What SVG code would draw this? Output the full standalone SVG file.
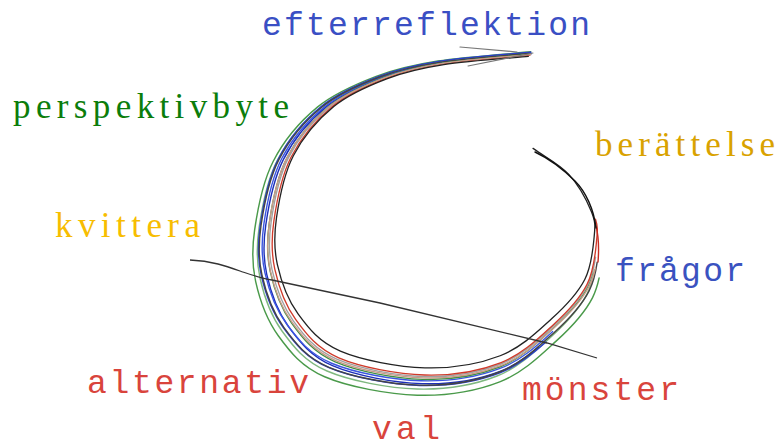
<svg xmlns="http://www.w3.org/2000/svg" xmlns:xlink="http://www.w3.org/1999/xlink" width="775" height="448" viewBox="0 0 775 448">
<style>
.mono{font-family:"Liberation Mono","Courier New",monospace;font-size:33px}
.serif{font-family:"Liberation Serif","Times New Roman",serif;font-size:35px}
.s{fill:none;stroke-width:1.4;stroke-linecap:round;vector-effect:non-scaling-stroke}
</style>
<defs>
<path id="spiral" pathLength="1" d="M530,53 C515,54.5 465,58 440,62 C415,66 399.5,69.5 380,77 C360.5,84.5 339.7,93.2 323,107 C306.3,120.8 290.2,140 280,160 C269.8,180 264.8,207.5 262,227 C259.2,246.5 259.2,259.8 263,277 C266.8,294.2 273.8,314.5 285,330 C296.2,345.5 307.5,360.3 330,370 C352.5,379.7 391.7,387.2 420,388 C448.3,388.8 477.5,383.8 500,375 C522.5,366.2 540,348.7 555,335 C570,321.3 582.5,307.7 590,293 C597.5,278.3 598.8,259.2 600,247 C601.2,234.8 601.5,231.2 597,220 C592.5,208.8 583.3,191.3 573,180 C562.7,168.7 547.7,161.3 535,152"/>
</defs>
<rect width="775" height="448" fill="#ffffff"/>
<g id="strands">
<use xlink:href="#spiral" class="s" stroke="#4a9a4a" stroke-dasharray="0.85 1" transform="translate(440 100) scale(1.03 1.025) translate(-440 -100) translate(-2 0)"/>
<use xlink:href="#spiral" class="s" stroke="#7fb87f" stroke-dasharray="0.855 1" transform="translate(440 100) scale(1.0 1.0) translate(-440 -100) translate(-3 1)"/>
<use xlink:href="#spiral" class="s" stroke="#2a3fd0" stroke-width="1.6" stroke-dasharray="0.76 1" transform="translate(440 100) scale(1.01 0.995) translate(-440 -100) translate(0 -1)"/>
<use xlink:href="#spiral" class="s" stroke="#1c2fb8" stroke-width="1.6" stroke-dasharray="0.75 1" transform="translate(440 100) scale(0.99 0.985) translate(-440 -100) translate(2 0)"/>
<use xlink:href="#spiral" class="s" stroke="#3b55e0" stroke-width="1.6" stroke-dasharray="0.77 1" transform="translate(440 100) scale(0.995 0.975) translate(-440 -100) translate(1 0)"/>
<use xlink:href="#spiral" class="s" stroke="#444" stroke-dasharray="0.86 1" transform="translate(440 100) scale(1.0 0.99) translate(-440 -100) translate(-1 0)"/>
<use xlink:href="#spiral" class="s" stroke="#3f8f44" stroke-dasharray="0.845 1" transform="translate(440 100) scale(0.97 0.97) translate(-440 -100) translate(2 0)"/>
<use xlink:href="#spiral" class="s" stroke="#a0a0a0" stroke-dasharray="0.86 1" transform="translate(440 100) scale(0.965 0.96) translate(-440 -100) translate(3 0)"/>
<use xlink:href="#spiral" class="s" stroke="#d03a2a" stroke-width="1.6" stroke-dasharray="0.9 1" transform="translate(440 100) scale(0.955 0.955) translate(-440 -100) translate(4 0)"/>
<use xlink:href="#spiral" class="s" stroke="#c89a88" stroke-dasharray="0.85 1" transform="translate(440 100) scale(0.975 0.965) translate(-440 -100) translate(3 0)"/>
<use xlink:href="#spiral" class="s" stroke="#222" stroke-width="1.4" transform="translate(440 100) scale(0.94 0.93) translate(-440 -100) translate(4 0)"/>
<path class="s" stroke="#c62a20" stroke-width="2.4" d="M598,262 C599,250 599,238 596,226"/>
<path class="s" stroke="#111" stroke-width="2.6" d="M596,228 C594,210 586,192 575,181 C564,170 550,159 535,152"/>
</g>
<g id="arrowhead" fill="none" stroke="#777" stroke-width="1.2" stroke-linecap="round">
<path d="M460,47 L517,52"/>
<path d="M468,66 L533,53"/>
</g>
<g id="crossline">
<path fill="none" stroke="#333" stroke-width="1.3" d="M190,260 C212,261 226,266 240,271 C252,275 260,278 272,280 L380,303 L547,343 L597,358"/>
</g>
<g id="label-efterreflektion"><text class="mono" x="262" y="35" fill="#3a4fc4" textLength="328" lengthAdjust="spacing">efterreflektion</text></g>
<g id="label-perspektivbyte"><text class="serif" x="13" y="118" fill="#0b7d0b" textLength="276" lengthAdjust="spacing">perspektivbyte</text></g>
<g id="label-kvittera"><text class="serif" x="55" y="237" fill="#f7bd00" textLength="145" lengthAdjust="spacing">kvittera</text></g>
<g id="label-berattelse"><text class="serif" x="595" y="156" fill="#d9a200" textLength="180" lengthAdjust="spacing">berättelse</text></g>
<g id="label-fragor"><text class="mono" x="615" y="281" fill="#3a52c0" textLength="130" lengthAdjust="spacing">frågor</text></g>
<g id="label-alternativ"><text class="mono" x="87" y="393" fill="#d9443c" textLength="222" lengthAdjust="spacing">alternativ</text></g>
<g id="label-monster"><text class="mono" x="522" y="400" fill="#d9443c" textLength="157" lengthAdjust="spacing">mönster</text></g>
<g id="label-val"><text class="mono" x="372" y="439" fill="#d9443c" textLength="68" lengthAdjust="spacing">val</text></g>
</svg>
